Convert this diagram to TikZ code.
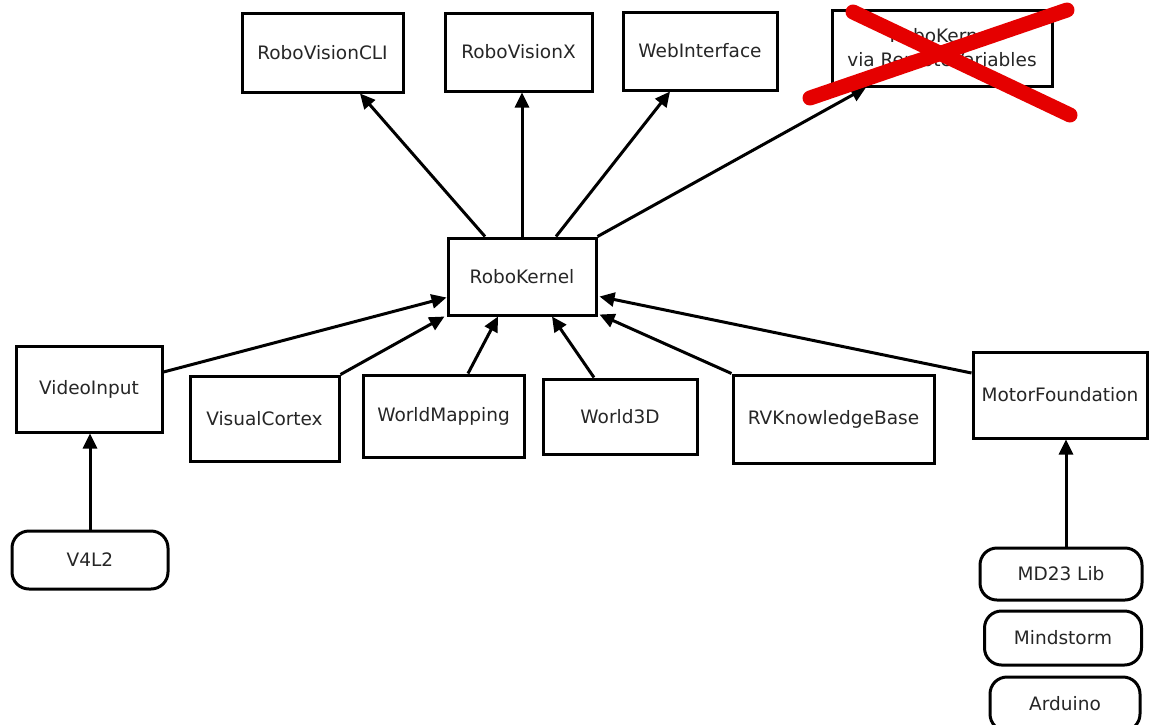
\documentclass[tikz,border=0pt]{standalone}
\usepackage{fontspec}
\setmainfont{DejaVu Sans}
\usetikzlibrary{arrows.meta}
\begin{document}
\begin{tikzpicture}[x=1pt,y=-1pt,
  box/.style={draw,line width=3pt,fill=white,inner sep=0pt,align=center,font=\fontsize{18.5}{24}\selectfont,text=black!85},
  pill/.style={box,rounded corners=17pt},
  conn/.style={line width=3pt,-{Triangle[length=15pt,width=14pt]}},
  cross/.style={line width=15pt,red!90!black,line cap=round}]
\useasboundingbox (0,0) rectangle (1149,724);
% top row
\node[box,minimum width=161pt,minimum height=79pt] (cli) at (322.5,52.5) {RoboVisionCLI};
\node[box,minimum width=147pt,minimum height=78pt] (rvx) at (518.5,52) {RoboVisionX};
\node[box,minimum width=154pt,minimum height=78pt] (web) at (700,51) {WebInterface};
\node[box,minimum width=220pt,minimum height=76pt] (remote) at (942,48) {RoboKernel\\via RemoteVariables};
% kernel
\node[box,minimum width=148pt,minimum height=77pt] (kernel) at (522,276.5) {RoboKernel};
% middle row
\node[box,minimum width=146pt,minimum height=86pt] (video) at (89,389) {VideoInput};
\node[box,minimum width=149pt,minimum height=85pt] (visual) at (264.5,418.5) {VisualCortex};
\node[box,minimum width=161pt,minimum height=82pt] (mapping) at (443.5,416) {WorldMapping};
\node[box,minimum width=154pt,minimum height=75pt] (w3d) at (620,416.5) {World3D};
\node[box,minimum width=201pt,minimum height=88pt] (kb) at (833.5,419) {RVKnowledgeBase};
\node[box,minimum width=174pt,minimum height=86pt] (motor) at (1060,395) {MotorFoundation};
% libraries
\node[pill,minimum width=156pt,minimum height=58pt] (v4l2) at (90,560) {V4L2};
\node[pill,minimum width=162pt,minimum height=52pt] (md23) at (1061,574) {MD23 Lib};
\node[pill,minimum width=157pt,minimum height=54pt] (mind) at (1063,638) {Mindstorm};
\node[pill,minimum width=150pt,minimum height=54pt] (ard) at (1065,704) {Arduino};
% connectors
\draw[conn] ([xshift=-37pt]kernel.north) -- ([xshift=37.5pt]cli.south);
\draw[conn] (kernel.north) -- (rvx.south -| kernel.north);
\draw[conn] ([xshift=34pt]kernel.north) -- ([xshift=-30pt]web.south);
\draw[conn] (kernel.north east) -- ([xshift=-76pt]remote.south);
\draw[conn] ([yshift=17pt]video.east) -- ([yshift=-21pt]kernel.west);
\draw[conn] (visual.north east) -- ([xshift=-2pt]kernel.south west);
\draw[conn] ([xshift=24.5pt]mapping.north) -- ([xshift=-24pt]kernel.south);
\draw[conn] ([xshift=-26pt]w3d.north) -- ([xshift=30pt]kernel.south);
\draw[conn] (kb.north west) -- ([xshift=2pt,yshift=2pt]kernel.south east);
\draw[conn] ([yshift=22pt]motor.west) -- ([xshift=2pt,yshift=-20pt]kernel.east);
\draw[conn] (v4l2.north) -- (video.south -| v4l2.north);
\draw[conn] ([xshift=5pt]md23.north) -- ([xshift=5pt]md23.north |- motor.south);
% red cross
\draw[cross] ([xshift=-132pt,yshift=-50pt]remote.center) -- ([xshift=125pt,yshift=38pt]remote.center);
\draw[cross] ([xshift=-89pt,yshift=36pt]remote.center) -- ([xshift=128pt,yshift=-67pt]remote.center);
\end{tikzpicture}
\end{document}
